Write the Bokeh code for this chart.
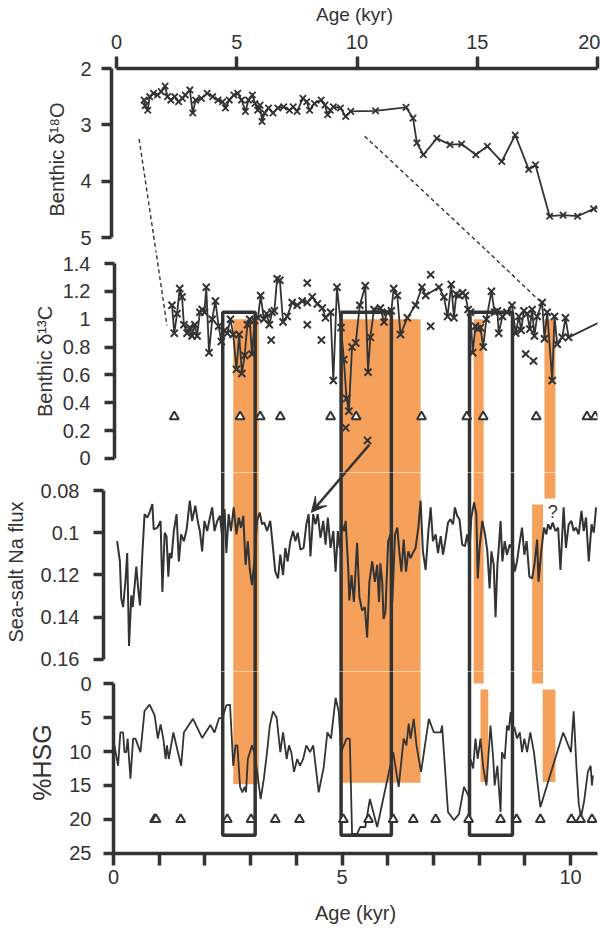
from bokeh.plotting import figure
from bokeh.layouts import column, row
from bokeh.models import (Range1d, LinearAxis, FixedTicker, PrintfTickFormatter,
                          Arrow, VeeHead)
from bokeh.embed import file_html
from bokeh.resources import INLINE
from bokeh.core.properties import value

# ---------------- data ----------------
# Benthic d18O (top age scale, kyr)
d18o_age = [1.15, 1.19, 1.30, 1.38, 1.54, 1.70, 1.86, 2.02, 2.12, 2.26, 2.42, 2.58, 2.74, 2.86,
            3.05, 3.17, 3.29, 3.53, 3.77, 4.00, 4.22, 4.41, 4.53, 4.69, 4.88, 5.04, 5.20, 5.36,
            5.49, 5.65, 5.76, 5.87, 5.97, 6.05, 6.16, 6.32, 6.51, 6.71, 6.95, 7.19, 7.35, 7.51,
            7.75, 7.91, 8.03, 8.23, 8.51, 8.67, 8.78, 8.89, 9.02, 9.31, 9.53, 9.74, 10.77,
            12.04, 12.33, 12.49, 12.76, 13.32, 13.87, 14.35, 14.94, 15.42, 16.02, 16.58, 17.14,
            17.42, 18.01, 18.57, 19.17, 19.84, 20.60]
d18o_val = [2.56, 2.66, 2.74, 2.50, 2.44, 2.47, 2.41, 2.31, 2.50, 2.56, 2.50, 2.59, 2.53, 2.47,
            2.38, 2.79, 2.56, 2.53, 2.44, 2.50, 2.56, 2.59, 2.70, 2.56, 2.47, 2.44, 2.56, 2.76,
            2.56, 2.47, 2.62, 2.74, 2.65, 2.94, 2.79, 2.70, 2.79, 2.70, 2.68, 2.74, 2.68, 2.76,
            2.53, 2.59, 2.74, 2.62, 2.56, 2.65, 2.82, 2.74, 2.68, 2.70, 2.85, 2.76, 2.75,
            2.69, 2.88, 3.32, 3.53, 3.24, 3.35, 3.34, 3.53, 3.38, 3.65, 3.18, 3.79,
            3.71, 4.62, 4.60, 4.62, 4.49, 4.40]

# Benthic d13C (bottom age scale, kyr)
d13c_age = [1.28, 1.33, 1.39, 1.45, 1.50, 1.54, 1.61, 1.67, 1.72, 1.78, 1.83, 1.89, 1.94, 1.99,
            2.03, 2.09, 2.16, 2.23, 2.30, 2.36, 2.43, 2.49, 2.56, 2.62, 2.69, 2.75, 2.81, 2.87,
            2.93, 2.98, 3.03, 3.09, 3.16, 3.22, 3.29, 3.35, 3.41, 3.47, 3.52, 3.58, 3.64, 3.71,
            3.80, 3.91, 4.02, 4.13, 4.24, 4.35, 4.46, 4.57, 4.64, 4.75, 4.81, 4.89, 4.98, 5.04,
            5.10, 5.15, 5.22, 5.30, 5.39, 5.51, 5.57, 5.62, 5.70, 5.84, 5.92, 5.99, 6.08, 6.13,
            6.21, 6.28, 6.43, 6.61, 6.75, 6.83, 7.12, 7.23, 7.31, 7.39, 7.45, 7.50, 7.56, 7.64,
            7.70, 7.76, 7.81, 7.86, 7.92, 7.97, 8.03, 8.09, 8.16, 8.27, 8.34, 8.40, 8.43, 8.51,
            8.61, 8.72, 8.80, 8.87, 8.92, 8.98, 9.05, 9.11, 9.16, 9.21, 9.27, 9.38, 9.43, 9.49,
            9.60, 9.65, 9.71, 9.82, 9.89, 9.96, 10.90]
d13c_val = [1.10, 0.90, 1.04, 1.22, 1.16, 0.96, 0.90, 0.94, 0.88, 0.96, 0.88, 1.05, 1.07, 1.05,
            1.23, 0.76, 1.00, 1.13, 0.95, 0.84, 0.92, 0.90, 1.00, 0.89, 0.64, 0.89, 0.61, 0.74,
            0.96, 1.00, 0.75, 0.99, 1.01, 1.17, 1.00, 1.04, 0.96, 1.05, 1.06, 1.29, 1.28, 0.98,
            1.02, 1.12, 1.10, 1.13, 1.12, 1.16, 1.11, 1.08, 1.01, 1.05, 0.56, 1.23, 0.94, 0.71,
            0.43, 0.34, 0.80, 0.83, 1.10, 1.24, 0.62, 0.87, 1.07, 1.08, 0.98, 1.05, 1.06, 1.22,
            1.17, 0.89, 1.01, 1.10, 1.23, 1.17, 1.23, 1.16, 1.02, 1.25, 1.01, 1.18, 1.17, 1.19,
            1.17, 1.07, 1.05, 0.76, 0.95, 0.93, 0.94, 0.80, 1.00, 1.20, 1.05, 1.06, 0.90, 1.02,
            1.05, 1.10, 0.90, 1.02, 0.92, 1.06, 1.04, 0.93, 1.07, 0.88, 1.02, 1.12, 0.86, 1.05,
            0.56, 1.02, 0.82, 0.87, 1.01, 0.87, 1.02]
d13c_extra_age = [3.45, 4.24, 4.24, 4.55, 5.08, 5.56, 6.94, 6.94, 9.02, 9.19]
d13c_extra_val = [0.85, 1.26, 0.96, 0.85, 0.22, 0.13, 1.32, 0.95, 0.75, 0.70]
d13c_tri_age = [1.33, 2.77, 3.21, 3.65, 4.75, 5.31, 6.74, 7.73, 8.09, 9.25, 10.36, 10.54]
d13c_tri_val = [0.3, 0.3, 0.3, 0.3, 0.3, 0.3, 0.3, 0.3, 0.3, 0.3, 0.3, 0.3]

# Sea-salt Na flux
na_age = [0.08, 0.14, 0.17, 0.21, 0.26, 0.30, 0.34, 0.39, 0.42, 0.47, 0.50, 0.54, 0.58, 0.63,
          0.68, 0.74, 0.79, 0.85, 0.88, 0.96, 1.03, 1.07, 1.12, 1.16, 1.20, 1.23, 1.27, 1.32,
          1.38, 1.43, 1.48, 1.54, 1.60, 1.67, 1.72, 1.79, 1.85, 1.89, 1.94, 1.99, 2.05, 2.11,
          2.16, 2.21, 2.27, 2.33, 2.38, 2.43, 2.47, 2.52, 2.57, 2.63, 2.69, 2.74, 2.79, 2.84,
          2.89, 2.94, 2.98, 3.03, 3.09, 3.14, 3.20, 3.25, 3.30, 3.36, 3.43, 3.49, 3.54, 3.60,
          3.65, 3.71, 3.76, 3.81, 3.87, 3.93, 3.98, 4.03, 4.09, 4.16, 4.22, 4.27, 4.31, 4.37,
          4.42, 4.47, 4.53, 4.59, 4.64, 4.69, 4.75, 4.81, 4.86, 4.91, 4.95, 5.00, 5.05, 5.08,
          5.14, 5.16, 5.21, 5.26, 5.33, 5.38, 5.44, 5.50, 5.55, 5.60, 5.66, 5.72, 5.77, 5.81,
          5.84, 5.88, 5.91, 5.95, 6.01, 6.06, 6.10, 6.16, 6.21, 6.26, 6.30, 6.35, 6.40, 6.45,
          6.50, 6.55, 6.61, 6.67, 6.72, 6.77, 6.83, 6.89, 6.94, 6.99, 7.05, 7.10, 7.16, 7.21,
          7.26, 7.32, 7.37, 7.43, 7.47, 7.52, 7.57, 7.63, 7.69, 7.74, 7.79, 7.83, 7.89, 7.94,
          7.97, 8.01, 8.07, 8.13, 8.18, 8.23, 8.27, 8.32, 8.36, 8.40, 8.43, 8.47, 8.51, 8.56,
          8.61, 8.67, 8.72, 8.78, 8.83, 8.88, 8.94, 8.99, 9.04, 9.10, 9.16, 9.21, 9.27, 9.30,
          9.36, 9.42, 9.47, 9.51, 9.56, 9.61, 9.67, 9.73, 9.78, 9.85, 9.90, 9.96, 10.02, 10.07,
          10.12, 10.18, 10.24, 10.29, 10.34, 10.40, 10.46, 10.51, 10.56]
na_val = [0.1040, 0.1136, 0.1312, 0.1352, 0.1232, 0.1096, 0.1536, 0.1296, 0.1352, 0.1232,
          0.1160, 0.1264, 0.1344, 0.1104, 0.0912, 0.0928, 0.0904, 0.0864, 0.0984, 0.0976,
          0.0944, 0.1280, 0.1000, 0.1016, 0.1208, 0.1096, 0.1120, 0.0992, 0.0912, 0.1136,
          0.1008, 0.1040, 0.0984, 0.0848, 0.0944, 0.0872, 0.0952, 0.0992, 0.1088, 0.0944,
          0.0992, 0.0928, 0.0880, 0.0992, 0.0944, 0.0920, 0.1024, 0.0888, 0.1096, 0.0912,
          0.0992, 0.0880, 0.1008, 0.0928, 0.0976, 0.0920, 0.1152, 0.1040, 0.1168, 0.1248,
          0.1120, 0.0944, 0.0904, 0.0960, 0.0952, 0.0992, 0.0944, 0.1072, 0.1184, 0.1216,
          0.1104, 0.1200, 0.1072, 0.1136, 0.1040, 0.0992, 0.1040, 0.1000, 0.1080, 0.1072,
          0.0960, 0.0912, 0.1112, 0.0912, 0.0960, 0.0912, 0.1024, 0.0944, 0.1056, 0.0928,
          0.1072, 0.0992, 0.1184, 0.0992, 0.1072, 0.0960, 0.0992, 0.0944,
          0.1184, 0.1320, 0.1200, 0.1328, 0.1048, 0.1304, 0.1368, 0.1352, 0.1496, 0.1232,
          0.1136, 0.1232, 0.1152, 0.1328, 0.1144, 0.1232, 0.1408, 0.1376, 0.1040, 0.1008,
          0.1328, 0.1008, 0.0976, 0.1104, 0.1184, 0.1032, 0.1184, 0.1088, 0.1120, 0.1096,
          0.1072, 0.0976, 0.0848, 0.1088, 0.1176, 0.0992, 0.0880, 0.1040, 0.1008, 0.1096,
          0.1016, 0.1104, 0.1040, 0.0952, 0.0936, 0.0960, 0.0880, 0.0920, 0.0936, 0.1056,
          0.1064, 0.1008, 0.1080, 0.0928, 0.0856, 0.0912, 0.1216, 0.1072, 0.0944, 0.1008,
          0.1088, 0.1264, 0.1088, 0.1152, 0.1400, 0.1152, 0.1072, 0.0944, 0.1136, 0.1040,
          0.1104, 0.1056, 0.1072, 0.1184, 0.1136, 0.1056, 0.0976, 0.1104, 0.1040, 0.1208,
          0.1216, 0.1152, 0.1032, 0.1232, 0.1088, 0.0976, 0.1008, 0.0960, 0.0984, 0.0952,
          0.0992, 0.0976, 0.1176, 0.0880, 0.1072, 0.0960, 0.0944, 0.0992, 0.0976, 0.1008,
          0.0896, 0.0992, 0.0928, 0.1136, 0.0960, 0.1000, 0.0880]

# %HSG
hsg_age = [0.02, 0.10, 0.15, 0.21, 0.24, 0.28, 0.31, 0.37, 0.43, 0.48, 0.59, 0.68, 0.79, 0.90,
           0.97, 1.03, 1.09, 1.14, 1.17, 1.21, 1.31, 1.41, 1.48, 1.54, 1.74, 1.94, 2.12, 2.21,
           2.31, 2.38, 2.47, 2.55, 2.62, 2.67, 2.71, 2.77, 2.82, 2.87, 2.90, 2.94, 3.03, 3.08,
           3.13, 3.22, 3.29, 3.36, 3.42, 3.49, 3.57, 3.65, 3.71, 3.79, 3.84, 3.89, 3.95, 4.02,
           4.08, 4.15, 4.22, 4.30, 4.37, 4.49, 4.60, 4.68, 4.76, 4.86, 4.93, 4.98, 5.04, 5.10,
           5.17, 5.22, 5.33, 5.40, 5.51, 5.61, 5.77, 6.12, 6.24, 6.35, 6.41, 6.46, 6.50, 6.57,
           6.63, 6.73, 6.90, 7.01, 7.16, 7.19, 7.32, 7.45, 7.56, 7.67, 7.78, 7.81, 7.87, 7.92,
           7.97, 8.03, 8.09, 8.16, 8.25, 8.31, 8.34, 8.40, 8.47, 8.50, 8.56, 8.61, 8.65, 8.69,
           8.73, 8.77, 8.83, 8.89, 8.94, 8.99, 9.05, 9.12, 9.20, 9.34, 9.84, 10.01, 10.07, 10.13,
           10.18, 10.23, 10.30, 10.38, 10.44, 10.47, 10.49]
hsg_val = [9.1, 12.1, 7.2, 7.2, 10.1, 10.1, 8.1, 14.0, 8.1, 8.1, 10.1, 4.0, 3.1, 4.7,
           8.1, 6.0, 8.1, 11.1, 9.1, 11.1, 7.2, 10.1, 12.1, 7.2, 5.2, 8.0, 6.1, 7.2,
           5.1, 5.1, 3.2, 3.1, 12.1, 9.1, 9.1, 15.2, 16.0, 15.2, 16.0, 11.1, 9.1, 10.1,
           12.3, 17.0, 14.0, 10.1, 6.2, 4.1, 5.0, 10.1, 7.2, 11.1, 9.1, 10.1, 13.0, 11.1,
           12.1, 11.1, 9.1, 10.1, 9.1, 16.0, 12.3, 7.2, 8.1, 2.1, 4.2, 10.1, 9.1, 8.1,
           8.1, 22.1, 22.1, 21.1, 21.1, 17.0, 21.1, 10.1, 15.2, 8.1, 9.1, 5.9, 8.1, 5.2,
           9.1, 13.0, 5.2, 7.2, 7.2, 6.2, 18.9, 20.1, 19.2, 15.2, 16.7, 11.1, 12.5, 8.1,
           11.1, 8.1, 12.3, 15.0, 6.2, 11.1, 15.0, 12.1, 18.9, 10.1, 11.1, 6.2, 6.9, 4.2,
           7.2, 6.4, 8.1, 7.2, 10.1, 8.1, 10.1, 7.2, 10.1, 18.2, 7.2, 10.1, 4.1, 12.3,
           17.7, 19.7, 17.2, 13.0, 12.1, 15.0, 13.5]
hsg_tri_age = [0.90, 0.93, 1.47, 2.49, 3.01, 3.54, 4.07, 5.03, 5.58, 6.12, 6.56, 7.05, 7.77,
               8.47, 8.82, 9.34, 10.02, 10.22, 10.47]
hsg_tri_val = [20, 20, 20, 20, 20, 20, 20, 20, 20, 20, 20, 20, 20, 20, 20, 20, 20, 20, 20]

# Orange event bands (age limits; upper/lower ends given in the panel they end in)
band_left = [2.62, 4.99, 7.88, 8.03, 9.43, 9.16, 9.39]
band_right = [3.18, 6.72, 8.10, 8.20, 9.67, 9.40, 9.67]
band_top_panel = ["d13c", "d13c", "d13c", "hsg", "d13c", "na", "hsg"]
band_top_value = [1.0, 1.0, 1.0, 0.9, 1.0, 0.0866, 0.9]
band_bottom_panel = ["hsg", "hsg", "hsg", "hsg", "na", "hsg", "hsg"]
band_bottom_value = [14.8, 14.6, 0.0, 14.5, 0.0838, 0.0, 14.5]

# Black outline boxes (age limits, top in d13C units, bottom in %HSG units)
box_left = [2.39, 4.98, 7.79]
box_right = [3.10, 6.08, 8.73]
box_top_d13c = [1.05, 1.05, 1.05]
box_bottom_hsg = [22.3, 22.3, 22.3]

# Dashed zoom connectors: from (top age, d18O) to (bottom age, d13C)
conn_top_age = [0.94, 10.32]
conn_top_d18o = [3.25, 3.20]
conn_bot_age = [1.17, 9.33]
conn_bot_d13c = [0.955, 1.13]

# Arrow: from (age, d13C) to (age, Na flux)
arrow_from = (5.60, 0.10)
arrow_to = (4.33, 0.0903)

# Question mark
qmark_age = [9.61]
qmark_na = [0.0904]
qmark_text = ["?"]

top_ticks = [0, 5, 10, 15, 20]
d18o_ticks = [2, 3, 4, 5]
d13c_ticks = [0, 0.2, 0.4, 0.6, 0.8, 1, 1.2, 1.4]
na_ticks = [0.08, 0.1, 0.12, 0.14, 0.16]
hsg_ticks = [0, 5, 10, 15, 20, 25]
bottom_major = [0, 5, 10]
bottom_minor = [1, 2, 3, 4, 6, 7, 8, 9]

# ---------------- layout geometry (page pixels) ----------------
INK = "#333333"
ORANGE = "#F6A15B"
FONT = "Liberation Sans"
FIG_W, FRAME_R = 600, 597

P = {
    "d18o": dict(top=66, bottom=250, left=111, v0=2.0, p0=66.0, v1=5.0, p1=237.0, xp0=116.0, xs=24.05),
    "d13c": dict(top=250, bottom=472, left=114, v0=1.4, p0=263.0, v1=0.0, p1=458.0, xp0=113.0, xs=45.7),
    "na": dict(top=472, bottom=671, left=103, v0=0.08, p0=490.0, v1=0.16, p1=659.0, xp0=113.0, xs=45.7),
    "hsg": dict(top=671, bottom=853, left=113, v0=0.0, p0=683.0, v1=25.0, p1=853.0, xp0=113.0, xs=45.7),
}


def y2px(name, v):
    g = P[name]
    return g["p0"] + (v - g["v0"]) * (g["p1"] - g["p0"]) / (g["v1"] - g["v0"])


def px2y(name, px):
    g = P[name]
    return g["v0"] + (px - g["p0"]) * (g["v1"] - g["v0"]) / (g["p1"] - g["p0"])


def x2px(name, a):
    g = P[name]
    return g["xp0"] + a * g["xs"]


def px2x(name, px):
    g = P[name]
    return (px - g["xp0"]) / g["xs"]


def conv_y(dst, src, v):
    return px2y(dst, y2px(src, v))


def conv_x(dst, src, a):
    return px2x(dst, x2px(src, a))


def make_fig(name, fig_top, fig_bottom):
    g = P[name]
    x0, x1 = px2x(name, g["left"]), px2x(name, FRAME_R)
    y0, y1 = px2y(name, g["bottom"]), px2y(name, g["top"])
    ex = 1e-6 * (x1 - x0)
    ey = 1e-6 * (y1 - y0)
    p = figure(width=FIG_W, height=fig_bottom - fig_top,
               x_range=Range1d(x0 - ex, x1 + ex), y_range=Range1d(y0 - ey, y1 + ey),
               min_border_left=g["left"],
               min_border_right=FIG_W - FRAME_R,
               min_border_top=g["top"] - fig_top,
               min_border_bottom=fig_bottom - g["bottom"],
               x_axis_location=None, y_axis_location=None,
               output_backend="svg", toolbar_location=None,
               outline_line_color=None, background_fill_color="white",
               border_fill_color="white")
    p.xgrid.grid_line_color = None
    p.ygrid.grid_line_color = None
    p.xgrid.visible = False
    p.ygrid.visible = False
    return p


def style_axis(ax, title, title_size, label_standoff, title_standoff, tick_len=10):
    ax.axis_label = title
    ax.axis_label_text_font = FONT
    ax.axis_label_text_font_size = title_size
    ax.axis_label_text_font_style = "normal"
    ax.axis_label_text_color = INK
    ax.axis_label_standoff = title_standoff
    ax.major_label_text_font = FONT
    ax.major_label_text_font_size = "20px"
    ax.major_label_text_color = INK
    ax.major_label_standoff = label_standoff
    ax.axis_line_color = INK
    ax.axis_line_width = 3.5
    ax.major_tick_line_color = INK
    ax.major_tick_line_width = 3.5
    ax.major_tick_out = tick_len
    ax.major_tick_in = 0
    ax.minor_tick_line_color = None


def left_axis(p, ticks, bounds, title, title_size, label_standoff, title_standoff):
    ax = LinearAxis(ticker=FixedTicker(ticks=ticks), formatter=PrintfTickFormatter(format="%g"),
                    bounds=bounds)
    style_axis(ax, title, title_size, label_standoff, title_standoff)
    p.add_layout(ax, "left")
    return ax


# ---------------- figure A: d18O ----------------
pA = make_fig("d18o", 0, 250)
top_ax = LinearAxis(ticker=FixedTicker(ticks=top_ticks), formatter=PrintfTickFormatter(format="%g"),
                    bounds=(0, 20))
style_axis(top_ax, "Age (kyr)", "19px", 8, 7, tick_len=12)
pA.add_layout(top_ax, "above")
left_axis(pA, d18o_ticks, (2, 5), "Benthic δ¹⁸O", "20px", 10, 9)

pA.multi_line(
    xs=[[a, conv_x("d18o", "d13c", b)] for a, b in zip(conn_top_age, conn_bot_age)],
    ys=[[a, conv_y("d18o", "d13c", b)] for a, b in zip(conn_top_d18o, conn_bot_d13c)],
    line_color=INK, line_width=1.4, line_dash="4 3")
pA.line(d18o_age, d18o_val, line_color=INK, line_width=1.8)
pA.scatter(d18o_age, d18o_val, marker="x", size=9, line_color=INK, line_width=1.8)

# ---------------- figure B: d13C ----------------
pB = make_fig("d13c", 250, 472)
left_axis(pB, d13c_ticks, (0, 1.4), "Benthic δ¹³C", "20px", 14, 4)

# ---------------- figure C: Na ----------------
pC = make_fig("na", 472, 671)
left_axis(pC, na_ticks, (0.08, 0.16), "Sea-salt Na flux", "20px", 14, 11)

# ---------------- figure D: HSG ----------------
pD = make_fig("hsg", 671, 935)
left_axis(pD, hsg_ticks, (0, 25), "%HSG", "25px", 12, 10)
bot_ax = LinearAxis(ticker=FixedTicker(ticks=bottom_major, minor_ticks=bottom_minor),
                    formatter=PrintfTickFormatter(format="%g"),
                    bounds=(0, px2x("hsg", FRAME_R)))
style_axis(bot_ax, "Age (kyr)", "20px", 4, 15, tick_len=12)
bot_ax.minor_tick_line_color = INK
bot_ax.minor_tick_line_width = 3.5
bot_ax.minor_tick_out = 12
bot_ax.minor_tick_in = 0
pD.add_layout(bot_ax, "below")

# shared-across-panel elements
for name, p in (("d13c", pB), ("na", pC), ("hsg", pD)):
    tops = [conv_y(name, tp, tv) for tp, tv in zip(band_top_panel, band_top_value)]
    bots = [conv_y(name, bp, bv) for bp, bv in zip(band_bottom_panel, band_bottom_value)]
    p.quad(left=band_left, right=band_right, top=tops, bottom=bots,
           fill_color=ORANGE, line_color=None)
    p.quad(left=box_left, right=box_right,
           top=[conv_y(name, "d13c", v) for v in box_top_d13c],
           bottom=[conv_y(name, "hsg", v) for v in box_bottom_hsg],
           fill_color=None, line_color=INK, line_width=3.5)

# dashed connectors (lower part) in B
pB.multi_line(
    xs=[[conv_x("d13c", "d18o", a), b] for a, b in zip(conn_top_age, conn_bot_age)],
    ys=[[conv_y("d13c", "d18o", a), b] for a, b in zip(conn_top_d18o, conn_bot_d13c)],
    line_color=INK, line_width=1.4, line_dash="4 3")

# arrow
pB.segment(x0=[arrow_from[0]], y0=[arrow_from[1]], x1=[arrow_to[0]],
           y1=[conv_y("d13c", "na", arrow_to[1])], line_color=INK, line_width=2.5)
pC.add_layout(Arrow(end=VeeHead(size=15, fill_color=INK, line_color=INK, line_width=1),
                    x_start=arrow_from[0], y_start=conv_y("na", "d13c", arrow_from[1]),
                    x_end=arrow_to[0], y_end=arrow_to[1],
                    line_color=INK, line_width=2.5))

# data
pB.line(d13c_age, d13c_val, line_color=INK, line_width=1.8)
pB.scatter(d13c_age, d13c_val, marker="x", size=10, line_color=INK, line_width=2)
pB.scatter(d13c_extra_age, d13c_extra_val, marker="x", size=10, line_color=INK, line_width=2)
pB.scatter(d13c_tri_age, d13c_tri_val, marker="triangle", size=9, fill_color="white",
           line_color=INK, line_width=2)

pC.line(na_age, na_val, line_color=INK, line_width=2)
pC.text(x=qmark_age, y=qmark_na, text=qmark_text, text_font=value(FONT),
        text_font_size="18px", text_color=INK, text_align="center", text_baseline="middle")

pD.line(hsg_age, hsg_val, line_color=INK, line_width=1.8)
pD.scatter(hsg_tri_age, hsg_tri_val, marker="triangle", size=9, fill_color="white",
           line_color=INK, line_width=2)

# each figure in its own row so that the column does not line up their frames
layout = column(row(pA), row(pB), row(pC), row(pD), spacing=0)
open("out.html", "w").write(file_html(layout, INLINE))
